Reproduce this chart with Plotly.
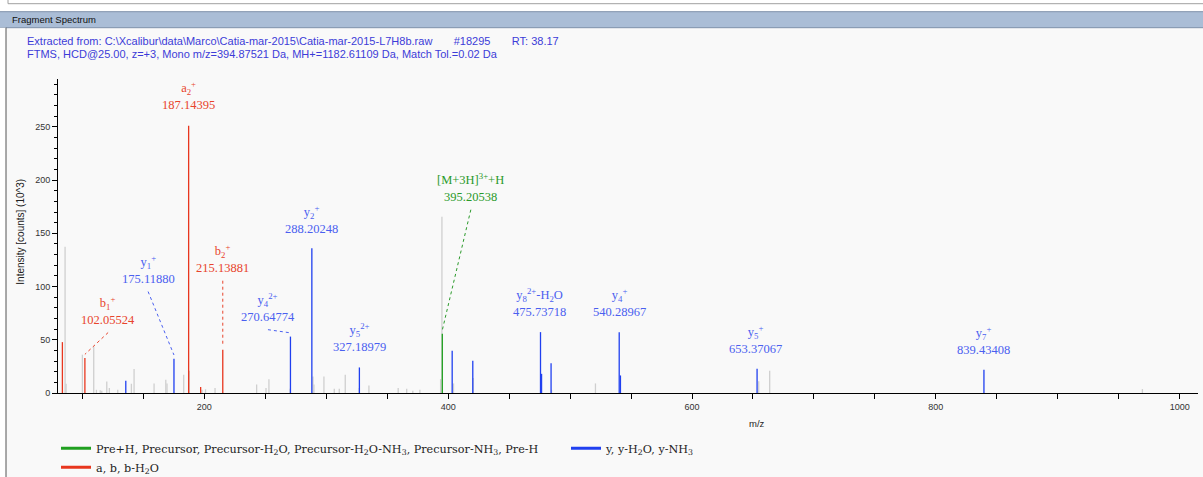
import plotly.graph_objects as go

# ---------------- data ----------------
gray_mz = [85.8, 86.6, 100.0, 109.3, 111.5, 114.6, 115.9, 120.0, 122.1, 129.0, 140.2, 142.4,
           158.8, 168.4, 169.4, 183.1, 187.7, 198.1, 201.0, 208.8, 242.9, 250.6, 253.0, 270.4,
           289.1, 289.9, 298.1, 306.6, 310.7, 315.6, 327.0, 335.0, 359.0, 366.0, 371.0, 376.8,
           393.8, 394.88, 404.4, 420.6, 484.8, 520.8, 654.7, 663.7, 969.4]
gray_int = [137.5, 8.7, 36.0, 43.7, 3.0, 2.5, 2.0, 10.9, 4.7, 3.0, 8.7, 22.5,
            9.0, 12.5, 9.0, 17.2, 21.0, 3.0, 3.5, 4.7, 8.0, 4.7, 13.0, 4.0,
            15.6, 8.0, 15.6, 4.0, 4.0, 17.2, 4.7, 7.0, 4.7, 4.0, 2.0, 3.0,
            13.0, 165.7, 9.0, 14.0, 3.0, 9.0, 11.0, 21.0, 3.7]

red_mz = [83.6, 102.05524, 187.14395, 197.0, 215.13881]
red_int = [47.8, 32.8, 251.0, 5.6, 40.6]

blue_mz = [135.6, 175.11880, 270.64774, 288.20248, 327.18979, 403.3, 420.2, 475.73718,
           476.6, 484.4, 540.28967, 541.3, 653.37067, 839.43408]
blue_int = [11.5, 32.2, 53.0, 136.0, 24.0, 39.7, 30.3, 57.2, 18.0, 28.0, 57.0, 16.5, 22.8, 21.9]

green_mz = [395.20538]
green_int = [55.6]

# annotated ions
ion_names = ["a<sub>2</sub><sup>+</sup>", "b<sub>1</sub><sup>+</sup>", "y<sub>1</sub><sup>+</sup>",
             "b<sub>2</sub><sup>+</sup>", "y<sub>4</sub><sup>2+</sup>", "y<sub>2</sub><sup>+</sup>",
             "y<sub>5</sub><sup>2+</sup>", "[M+3H]<sup>3+</sup>+H", "y<sub>8</sub><sup>2+</sup>-H<sub>2</sub>O",
             "y<sub>4</sub><sup>+</sup>", "y<sub>5</sub><sup>+</sup>", "y<sub>7</sub><sup>+</sup>"]
ion_mz = [187.14395, 102.05524, 175.11880, 215.13881, 270.64774, 288.20248,
          327.18979, 395.20538, 475.73718, 540.28967, 653.37067, 839.43408]
ion_int = [251.0, 32.8, 32.2, 40.6, 53.0, 136.0, 24.0, 55.6, 57.2, 57.0, 22.8, 21.9]
ion_type = ["red", "red", "blue", "red", "blue", "blue", "blue", "green", "blue", "blue", "blue", "blue"]

# label placement (layout, in data units)
label_x = [187.14, 121.1, 153.9, 215.14, 252.2, 288.2, 327.6, 418.6, 475.2, 540.7, 652.2, 839.1]
label_y = [262.0, 60.3, 98.8, 109.0, 63.0, 145.7, 35.0, 175.7, 67.8, 67.8, 33.0, 32.0]
has_connector = [False, True, True, True, True, False, False, True, False, False, False, False]

legend_names = ["Pre+H, Precursor, Precursor-H<sub>2</sub>O, Precursor-H<sub>2</sub>O-NH<sub>3</sub>, Precursor-NH<sub>3</sub>, Pre-H",
                "y, y-H<sub>2</sub>O, y-NH<sub>3</sub>",
                "a, b, b-H<sub>2</sub>O"]

SP = "\u00a0" * 7
header1 = r"Extracted from: C:\Xcalibur\data\Marco\Catia-mar-2015\Catia-mar-2015-L7H8b.raw" + SP + "#18295" + SP + "RT: 38.17"
header2 = "FTMS, HCD@25.00, z=+3, Mono m/z=394.87521 Da, MH+=1182.61109 Da, Match Tol.=0.02 Da"

# ---------------- styles ----------------
PEAK = {"gray": "#CFCFCF", "red": "#E8361E", "blue": "#2040F0", "green": "#20A020"}
TEXT = {"red": "#E8442C", "blue": "#4A60F0", "green": "#2A9A2A"}
W, H = 1203, 477
L, R, T, B = 58, 1198, 79.3, 393.3


def px(xp):
    return (xp - L) / (R - L)


def py(yp):
    return (B - yp) / (B - T)


def sticks(mz, inten):
    xs, ys = [], []
    for m, i in zip(mz, inten):
        xs += [m, m, None]
        ys += [0, i, None]
    return xs, ys


fig = go.Figure()
for key, mz, it in [("gray", gray_mz, gray_int), ("red", red_mz, red_int),
                    ("blue", blue_mz, blue_int), ("green", green_mz, green_int)]:
    xs, ys = sticks(mz, it)
    fig.add_trace(go.Scatter(x=xs, y=ys, mode="lines", line=dict(color=PEAK[key], width=1.3),
                             showlegend=False, hoverinfo="skip"))

# connectors
for i, c in enumerate(has_connector):
    if not c:
        continue
    col = TEXT[ion_type[i]]
    fig.add_trace(go.Scatter(x=[label_x[i], ion_mz[i]], y=[label_y[i] - 3.5, ion_int[i] + 3.5],
                             mode="lines", line=dict(color=col, width=1, dash="dot"),
                             showlegend=False, hoverinfo="skip"))

# legend entries
for name, key in zip(legend_names, ["green", "blue", "red"]):
    fig.add_trace(go.Scatter(x=[None], y=[None], mode="lines", name=name,
                             line=dict(color=PEAK[key], width=3)))

annotations = []
for i in range(len(ion_names)):
    annotations.append(dict(x=label_x[i], y=label_y[i], xref="x", yref="y",
                            text=ion_names[i] + "<br>" + f"{ion_mz[i]:.5f}",
                            showarrow=False, xanchor="center", yanchor="bottom",
                            font=dict(family="Liberation Serif", size=12.5, color=TEXT[ion_type[i]])))

annotations += [
    dict(x=px(10), y=py(20), xref="paper", yref="paper", text="Fragment Spectrum", showarrow=False,
         xanchor="left", yanchor="middle", font=dict(family="Arial", size=9.5, color="#111")),
    dict(x=px(25), y=py(41), xref="paper", yref="paper", text=header1, showarrow=False,
         xanchor="left", yanchor="middle", font=dict(family="Arial", size=11, color="#3C3CD8")),
    dict(x=px(25), y=py(54), xref="paper", yref="paper", text=header2, showarrow=False,
         xanchor="left", yanchor="middle", font=dict(family="Arial", size=11, color="#3C3CD8")),
    dict(x=px(21), y=py(232), xref="paper", yref="paper", text="Intensity [counts] (10^3)", showarrow=False,
         textangle=-90, xanchor="center", yanchor="middle", font=dict(family="Arial", size=10, color="#222")),
    dict(x=px(757), y=py(424), xref="paper", yref="paper", text="m/z", showarrow=False,
         xanchor="center", yanchor="middle", font=dict(family="Arial", size=9.5, color="#222")),
]

shapes = [
    dict(type="rect", xref="paper", yref="paper", x0=px(-5), x1=px(W + 5), y0=py(12), y1=py(-5),
         fillcolor="white", line=dict(width=0), layer="below"),
    dict(type="rect", xref="paper", yref="paper", x0=px(8), x1=px(W + 5), y0=py(4), y1=py(-5),
         fillcolor="white", line=dict(color="#A0A0A0", width=1)),
    dict(type="rect", xref="paper", yref="paper", x0=px(-5), x1=px(W + 5), y0=py(28), y1=py(12),
         fillcolor="#AABDD6", line=dict(color="#7E90AA", width=1)),
    dict(type="rect", xref="paper", yref="paper", x0=px(-5), x1=px(6), y0=py(H + 5), y1=py(28),
         fillcolor="white", line=dict(width=0)),
    dict(type="line", xref="paper", yref="paper", x0=px(6), x1=px(6), y0=py(H + 5), y1=py(28),
         line=dict(color="#555", width=1)),
]

fig.update_layout(
    width=W, height=H,
    margin=dict(l=L, r=W - R, t=T, b=H - B, autoexpand=False),
    paper_bgcolor="#F9F9F9", plot_bgcolor="#F9F9F9",
    annotations=annotations, shapes=shapes,
    showlegend=True,
    legend=dict(orientation="h", x=px(56), y=py(434), xanchor="left", yanchor="top",
                entrywidth=465, entrywidthmode="pixels", bgcolor="rgba(0,0,0,0)",
                font=dict(family="DejaVu Serif", size=11.2, color="#222"), traceorder="normal"),
    xaxis=dict(range=[80, 1015], showgrid=False, zeroline=False, showline=True, linecolor="black",
               linewidth=1, ticks="outside", ticklen=5, tickcolor="black", dtick=200, tick0=0,
               tickfont=dict(family="Arial", size=9, color="#333"),
               minor=dict(dtick=50, ticklen=5, tickcolor="black", ticks="outside")),
    yaxis=dict(range=[0, 295], showgrid=False, zeroline=False, showline=True, linecolor="black",
               linewidth=1, ticks="outside", ticklen=5, tickcolor="black", dtick=50, tick0=0,
               tickfont=dict(family="Arial", size=9, color="#333"),
               minor=dict(dtick=10, ticklen=3, tickcolor="black", ticks="outside")),
)

fig.write_html("out.html", config={"displayModeBar": False},
               post_script="document.body.style.margin='0';document.body.style.overflow='hidden';")
